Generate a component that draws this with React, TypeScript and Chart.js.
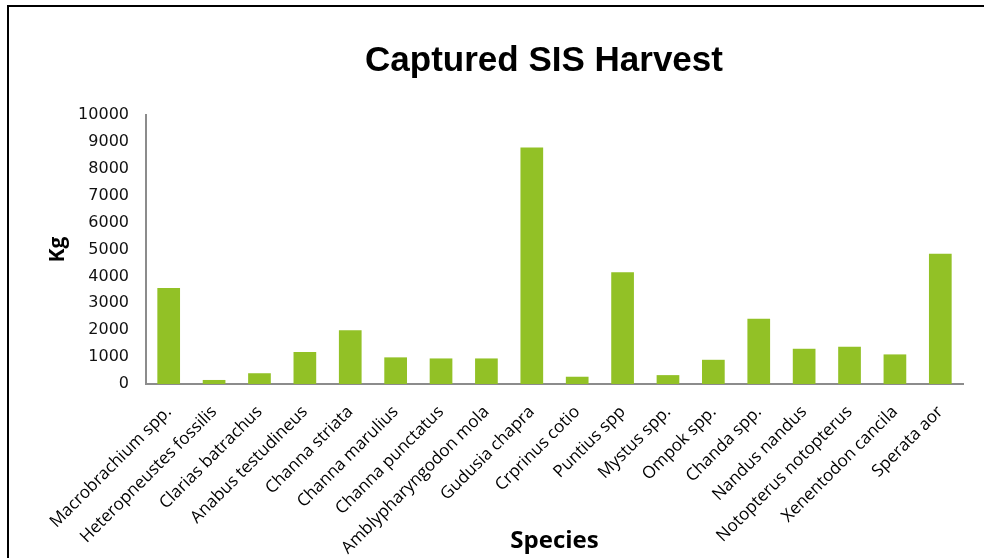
import React, { useEffect, useRef } from "react";
import { Chart, registerables } from "chart.js";

Chart.register(...registerables);

const categories = [
  "Macrobrachium spp.",
  "Heteropneustes fossilis",
  "Clarias batrachus",
  "Anabus testudineus",
  "Channa striata",
  "Channa marulius",
  "Channa punctatus",
  "Amblypharyngodon mola",
  "Gudusia chapra",
  "Crprinus cotio",
  "Puntius spp",
  "Mystus spp.",
  "Ompok spp.",
  "Chanda spp.",
  "Nandus nandus",
  "Notopterus notopterus",
  "Xenentodon cancila",
  "Sperata aor",
];

const harvestKg = [
  3570, 150, 400, 1190, 2000, 990, 950, 950, 8790, 270, 4150, 330, 900, 2430,
  1310, 1385, 1100, 4840,
];

const chartTitle = "Captured SIS Harvest";
const xTitle = "Species";
const yTitle = "Kg";
const yMin = 0;
const yMax = 10000;
const yStep = 1000;

const W = 984;
const H = 558;

const decorPlugin = {
  id: "decor",
  beforeDraw(chart: any) {
    const ctx = chart.ctx;
    ctx.save();
    ctx.fillStyle = "#fff";
    ctx.fillRect(0, 0, chart.width, chart.height);
    ctx.strokeStyle = "#000";
    ctx.lineWidth = 2;
    ctx.beginPath();
    ctx.moveTo(8, chart.height);
    ctx.lineTo(8, 6);
    ctx.lineTo(chart.width, 6);
    ctx.stroke();
    ctx.restore();
  },
  afterDraw(chart: any) {
    const ctx = chart.ctx;
    ctx.save();
    ctx.fillStyle = "#000";
    ctx.font = "bold 35px 'Liberation Sans', Arial, sans-serif";
    ctx.textAlign = "center";
    ctx.textBaseline = "middle";
    ctx.fillText(chartTitle, 544, 61);
    ctx.restore();
  },
};

export default function App() {
  const ref = useRef<HTMLCanvasElement | null>(null);

  useEffect(() => {
    if (!ref.current) return;
    const chart = new Chart(ref.current, {
      type: "bar",
      data: {
        labels: categories,
        datasets: [
          {
            label: "Harvest (Kg)",
            data: harvestKg,
            backgroundColor: "#92C126",
            borderWidth: 0,
            barPercentage: 0.5,
            categoryPercentage: 1,
          },
        ],
      },
      options: {
        responsive: false,
        animation: false,
        layout: { padding: { top: 115, right: 21, bottom: 0, left: 0 } },
        plugins: {
          legend: { display: false },
          title: { display: false },
          tooltip: { enabled: false },
        },
        scales: {
          x: {
            grid: { display: false, drawTicks: false },
            border: { display: true, color: "#8c8c8c", width: 2 },
            ticks: {
              autoSkip: false,
              maxRotation: 45,
              minRotation: 45,
              color: "#000",
              padding: 18,
              font: { family: "'Open Sans', sans-serif", size: 17 },
            },
            title: {
              display: true,
              text: xTitle,
              color: "#000",
              font: { family: "'Open Sans', sans-serif", size: 24, weight: "bold" },
              padding: { top: 0, bottom: 2 },
            },
            afterFit(scale: any) {
              scale.height = H - 384;
            },
          },
          y: {
            min: yMin,
            max: yMax,
            grid: { display: false, drawTicks: false },
            border: { display: true, color: "#8c8c8c", width: 2 },
            ticks: {
              stepSize: yStep,
              color: "#111",
              padding: 17,
              font: { family: "'DejaVu Sans', sans-serif", size: 16 },
              callback: (v: any) => String(v),
            },
            title: {
              display: true,
              text: yTitle,
              color: "#000",
              font: { family: "'Open Sans', sans-serif", size: 21, weight: "bold" },
              padding: { top: 45, bottom: 0 },
            },
            afterFit(scale: any) {
              scale.width = 146;
            },
          },
        },
      },
      plugins: [decorPlugin],
    });
    return () => chart.destroy();
  }, []);

  return (
    <div style={{ position: "fixed", left: 0, top: 0, width: W, height: H, background: "#fff" }}>
      <canvas ref={ref} width={W} height={H} style={{ display: "block" }} />
    </div>
  );
}
